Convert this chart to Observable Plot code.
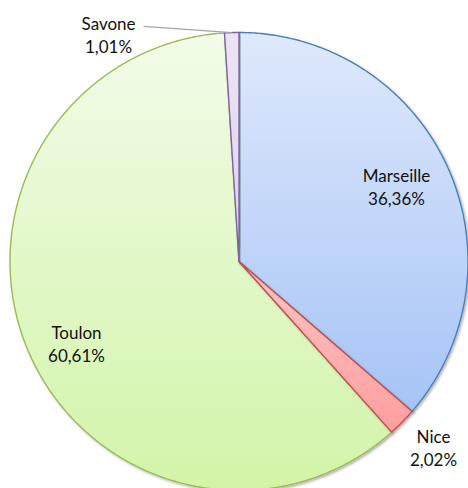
<!DOCTYPE html>
<html>
<head>
<meta charset="utf-8">
<script src="https://cdn.jsdelivr.net/npm/d3@7"></script>
<script src="https://cdn.jsdelivr.net/npm/@observablehq/plot@0.6"></script>
<style>
  html, body { margin: 0; padding: 0; background: #fff; }
  #chart svg { display: block; }
</style>
</head>
<body>
<div id="chart"></div>
<script>
// ---- data ----
const cities = ["Marseille", "Nice", "Toulon", "Savone"];
const shares = [36.36, 2.02, 60.61, 1.01];
const shareLabels = ["36,36%", "2,02%", "60,61%", "1,01%"];

// ---- styling ----
const gradTop = ["#dfe9fc", "#ffc4c4", "#f2fce9", "#ece4f5"];
const gradBottom = ["#a6c4f6", "#ff9e9e", "#d3f4a8", "#dfd2ee"];
const strokes = ["#4a7ebb", "#c0504d", "#9bbb59", "#8064a2"];
// label placement: angle (deg, clockwise from top) and radius fraction
const labelAngle = [64.5, 133.7, 243.2, -29.9];
const labelRadius = [0.762, 1.175, 0.795, 1.143];

const W = 468, H = 488;
const total = d3.sum(shares);
const rad = (deg) => deg * Math.PI / 180;

// build slice polygons in data units (unit circle)
let acc = 0;
const slices = cities.map((c, i) => {
  const a0 = acc / total * 360;
  acc += shares[i];
  const a1 = acc / total * 360;
  const pts = [{x: 0, y: 0}];
  const n = Math.max(2, Math.ceil((a1 - a0) / 0.5));
  for (let k = 0; k <= n; k++) {
    const a = rad(a0 + (a1 - a0) * k / n);
    pts.push({x: Math.sin(a), y: Math.cos(a)});
  }
  pts.push({x: 0, y: 0});
  return {city: c, i, a0, a1, pts};
});

const labels = cities.map((c, i) => {
  const a = rad(labelAngle[i]);
  return {x: labelRadius[i] * Math.sin(a), y: labelRadius[i] * Math.cos(a), text: c + "\n" + shareLabels[i]};
});

// leader line for the small Savone slice
const sv = slices[3];
const midA = rad((sv.a0 + sv.a1) / 2);
const leadStartA = rad(-22.1), leadStartR = 1.108;
const leader = [{
  x1: leadStartR * Math.sin(leadStartA), y1: leadStartR * Math.cos(leadStartA),
  x2: Math.sin(midA), y2: Math.cos(midA)
}];

const defsMark = () => {
  const svgNS = "http://www.w3.org/2000/svg";
  const defs = document.createElementNS(svgNS, "defs");
  cities.forEach((c, i) => {
    const g = document.createElementNS(svgNS, "linearGradient");
    g.setAttribute("id", "grad" + i);
    g.setAttribute("x1", "0"); g.setAttribute("y1", "0");
    g.setAttribute("x2", "0"); g.setAttribute("y2", "1");
    const s0 = document.createElementNS(svgNS, "stop");
    s0.setAttribute("offset", "0"); s0.setAttribute("stop-color", gradTop[i]);
    const s1 = document.createElementNS(svgNS, "stop");
    s1.setAttribute("offset", "1"); s1.setAttribute("stop-color", gradBottom[i]);
    g.appendChild(s0); g.appendChild(s1);
    defs.appendChild(g);
  });
  const f = document.createElementNS(svgNS, "filter");
  f.setAttribute("id", "shadow");
  f.setAttribute("x", "-10%"); f.setAttribute("y", "-10%");
  f.setAttribute("width", "120%"); f.setAttribute("height", "120%");
  const ds = document.createElementNS(svgNS, "feDropShadow");
  ds.setAttribute("dx", "1.5"); ds.setAttribute("dy", "1.5");
  ds.setAttribute("stdDeviation", "1");
  ds.setAttribute("flood-color", "#000"); ds.setAttribute("flood-opacity", "0.3");
  f.appendChild(ds);
  defs.appendChild(f);
  return defs;
};

const sliceOrder = [2, 0, 1, 3];
const sliceMarks = sliceOrder.map(i => Plot.line(slices[i].pts, {
  x: "x", y: "y",
  fill: `url(#grad${i})`,
  stroke: strokes[i],
  strokeWidth: 1.4,
  strokeLinejoin: "round",
  curve: "linear"
}));

const chart = Plot.plot({
  width: W, height: H,
  margin: 0,
  x: {domain: [-1, 1], range: [9.5, 467.5], axis: null},
  y: {domain: [-1, 1], range: [490, 32], axis: null},
  style: {fontFamily: "Lato, 'Liberation Sans', sans-serif", background: "#fff"},
  marks: [
    defsMark,
    ...sliceMarks,
    Plot.link(leader, {x1: "x1", y1: "y1", x2: "x2", y2: "y2", stroke: "#a6a6a6", strokeWidth: 1.3}),
    Plot.text(labels, {x: "x", y: "y", text: "text", fontSize: 17, lineHeight: 1.35, fill: "#111"})
  ]
});

d3.select(chart).selectAll("g[aria-label=line] path").attr("filter", "url(#shadow)");
document.getElementById("chart").appendChild(chart);
</script>
</body>
</html>
